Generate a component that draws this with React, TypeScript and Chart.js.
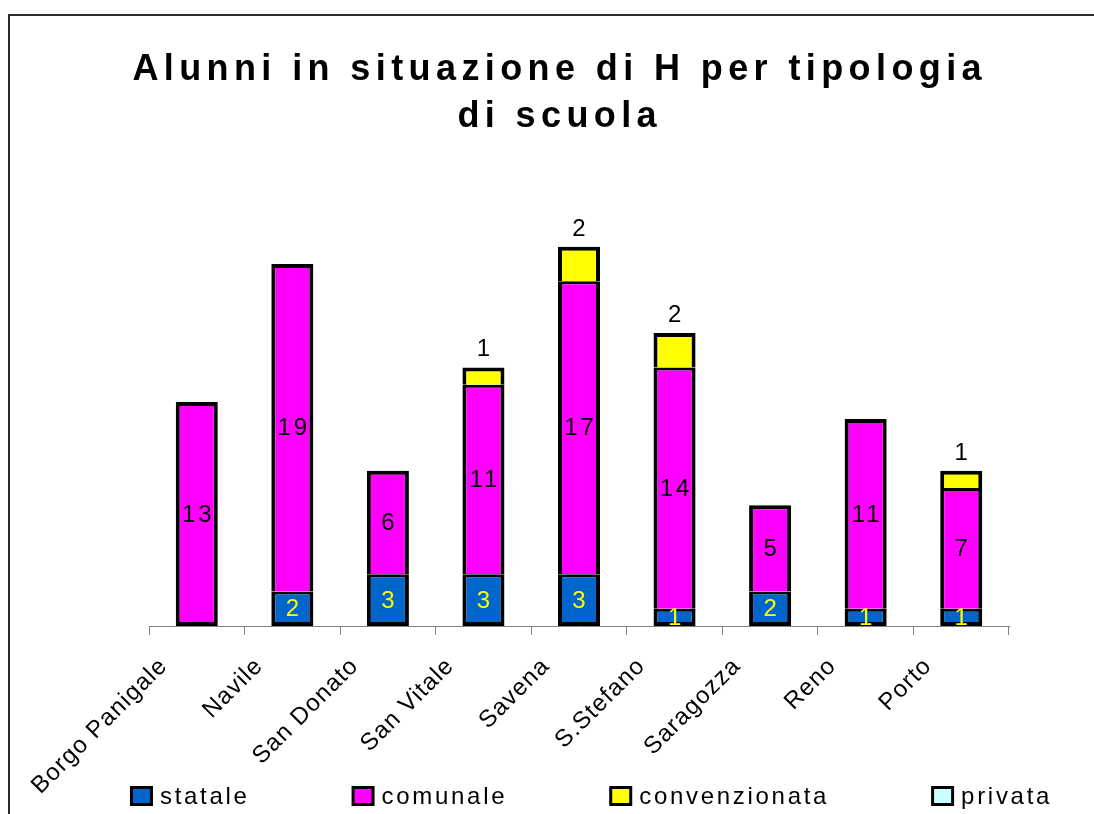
import React, { useEffect, useRef } from "react";
import { Chart, registerables } from "chart.js";

Chart.register(...registerables);

// ---- data ----
const categories = [
  "Borgo Panigale",
  "Navile",
  "San Donato",
  "San Vitale",
  "Savena",
  "S.Stefano",
  "Saragozza",
  "Reno",
  "Porto",
];
const statale = [0, 2, 3, 3, 3, 1, 2, 1, 1];
const comunale = [13, 19, 6, 11, 17, 14, 5, 11, 7];
const convenzionata = [0, 0, 0, 1, 2, 2, 0, 0, 1];
const privata = [0, 0, 0, 0, 0, 0, 0, 0, 0];
const seriesNames = ["statale", "comunale", "convenzionata", "privata"];
const seriesColors = ["#0066CC", "#FF00FF", "#FFFF00", "#CCFFFF"];
const titleLines = ["Alunni in situazione di H per tipologia", "di scuola"];
const yMax = 25;

const FONT = '"Liberation Sans", Arial, Helvetica, sans-serif';
const W = 1084;
const H = 798;

const spacingPlugin = {
  id: "spacing",
  beforeDraw(chart: any) {
    chart.ctx.letterSpacing = "1.2px";
  },
};

const titlePlugin = {
  id: "customTitle",
  afterDraw(chart: any) {
    const ctx = chart.ctx;
    ctx.save();
    ctx.letterSpacing = "5.4px";
    ctx.font = `bold 36px ${FONT}`;
    ctx.fillStyle = "#000";
    ctx.textAlign = "center";
    ctx.textBaseline = "alphabetic";
    const cx = chart.width / 2 + 5 + 2.7;
    titleLines.forEach((line, i) => {
      ctx.fillText(line, cx, 64 + i * 47);
    });
    ctx.restore();
  },
};

const barLabelPlugin = {
  id: "barLabels",
  afterDatasetsDraw(chart: any) {
    const ctx = chart.ctx;
    ctx.save();
    const sp = 3;
    ctx.letterSpacing = sp + "px";
    ctx.font = `24px ${FONT}`;
    ctx.textAlign = "center";
    chart.data.datasets.forEach((ds: any, di: number) => {
      const meta = chart.getDatasetMeta(di);
      meta.data.forEach((el: any, i: number) => {
        const v = ds.data[i];
        if (!v) return;
        const { x, y, base } = el.getProps(["x", "y", "base"], true);
        if (di === 0) {
          ctx.fillStyle = "#FFFF00";
          ctx.textBaseline = "middle";
          ctx.fillText(String(v), x + sp / 2, (y + base) / 2 + 1);
        } else if (di === 1) {
          ctx.fillStyle = "#000";
          ctx.textBaseline = "middle";
          ctx.fillText(String(v), x + sp / 2, (y + base) / 2 + 1);
        } else if (di === 2) {
          ctx.fillStyle = "#000";
          ctx.textBaseline = "alphabetic";
          ctx.fillText(String(v), x + sp / 2, y - 11);
        }
      });
    });
    ctx.restore();
  },
};

const legendPlugin = {
  id: "customLegend",
  afterDraw(chart: any) {
    const ctx = chart.ctx;
    ctx.save();
    const sp = 2.7;
    ctx.letterSpacing = sp + "px";
    ctx.font = `24px ${FONT}`;
    ctx.textBaseline = "alphabetic";
    ctx.textAlign = "left";
    const boxW = 23;
    const boxH = 20;
    const textGap = 30;
    const gap = 102;
    const widths = seriesNames.map((n) => textGap + ctx.measureText(n).width);
    const total = widths.reduce((a, b) => a + b, 0) + gap * (widths.length - 1);
    const centerX = (chart.chartArea.left + chart.chartArea.right) / 2 + 12;
    let x = centerX - total / 2;
    const boxTop = chart.height - 28;
    const baseline = chart.height - 10;
    seriesNames.forEach((name, i) => {
      ctx.fillStyle = "#000";
      ctx.fillRect(x, boxTop, boxW, boxH);
      ctx.fillStyle = seriesColors[i];
      ctx.fillRect(x + 3, boxTop + 3, boxW - 6, boxH - 6);
      ctx.fillStyle = "#000";
      ctx.fillText(name, x + textGap, baseline);
      x += widths[i] + gap;
    });
    ctx.restore();
  },
};

export default function App() {
  const canvasRef = useRef<HTMLCanvasElement | null>(null);

  useEffect(() => {
    if (!canvasRef.current) return;
    const chart = new Chart(canvasRef.current, {
      type: "bar",
      data: {
        labels: categories,
        datasets: [
          {
            label: seriesNames[0],
            data: statale,
            backgroundColor: seriesColors[0],
            borderColor: "#000",
            borderWidth: { top: 3, left: 4, right: 4, bottom: 4 },
            borderSkipped: false,
          },
          {
            label: seriesNames[1],
            data: comunale,
            backgroundColor: seriesColors[1],
            borderColor: "#000",
            borderWidth: (c: any) => ({
              top: convenzionata[c.dataIndex] > 0 ? 3 : 4,
              left: 4,
              right: 4,
              bottom: statale[c.dataIndex] > 0 ? 0 : 4,
            }),
            borderSkipped: false,
          },
          {
            label: seriesNames[2],
            data: convenzionata,
            backgroundColor: seriesColors[2],
            borderColor: "#000",
            borderWidth: { top: 4, left: 4, right: 4, bottom: 0 },
            borderSkipped: false,
          },
          {
            label: seriesNames[3],
            data: privata,
            backgroundColor: seriesColors[3],
            borderColor: "#000",
            borderWidth: { top: 4, left: 4, right: 4, bottom: 0 },
            borderSkipped: false,
          },
        ],
      },
      options: {
        responsive: false,
        animation: false,
        devicePixelRatio: 1,
        layout: { padding: { top: 179, left: 139, right: 85, bottom: 0 } },
        datasets: {
          bar: {
            categoryPercentage: 1,
            barPercentage: 0.44,
            inflateAmount: 0,
          },
        },
        plugins: {
          legend: { display: false },
          title: { display: false },
          tooltip: { enabled: false },
        },
        scales: {
          x: {
            stacked: true,
            grid: {
              offset: true,
              drawOnChartArea: false,
              drawTicks: true,
              tickLength: 9,
              color: "#808080",
              lineWidth: 1,
            },
            border: { display: true, color: "#808080", width: 1 },
            ticks: {
              color: "#000",
              font: { family: FONT, size: 24 },
              minRotation: 45,
              maxRotation: 45,
              autoSkip: false,
              labelOffset: -33,
              padding: 17,
            },
            afterFit: (s: any) => {
              s.height = 188;
              s.paddingLeft = 0;
              s.paddingRight = 0;
            },
          },
          y: {
            stacked: true,
            display: false,
            min: 0,
            max: yMax,
          },
        },
      },
      plugins: [spacingPlugin, barLabelPlugin, titlePlugin, legendPlugin],
    } as any);
    return () => chart.destroy();
  }, []);

  return (
    <div
      style={{
        position: "fixed",
        left: 8,
        top: 14,
        borderTop: "2px solid #2a2a2a",
        borderLeft: "2px solid #2a2a2a",
        width: W,
        height: H,
        background: "#fff",
      }}
    >
      <canvas
        ref={canvasRef}
        width={W}
        height={H}
        style={{ display: "block", width: W, height: H }}
      />
    </div>
  );
}
